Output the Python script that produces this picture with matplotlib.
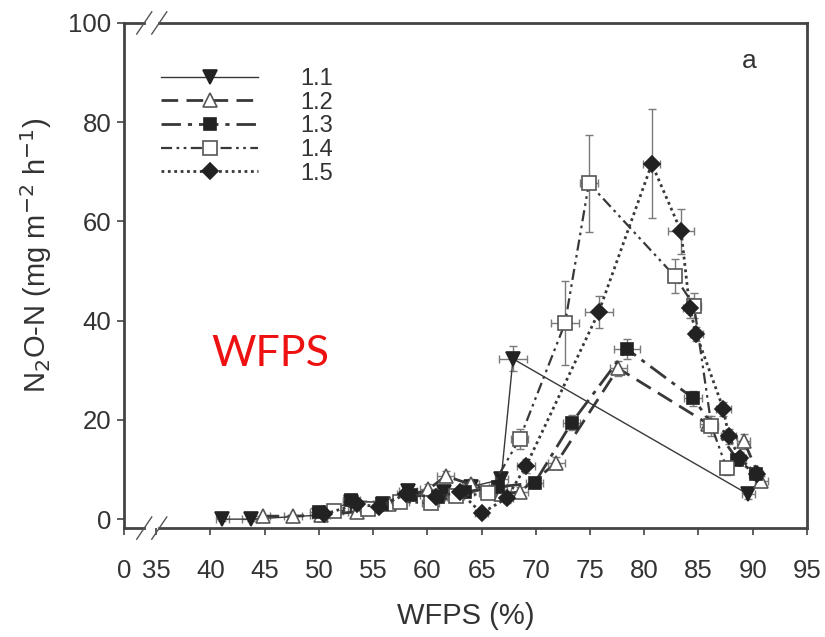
import numpy as np
import matplotlib
matplotlib.use('Agg')
import matplotlib.pyplot as plt
from matplotlib.lines import Line2D

plt.rcParams['font.family'] = ['Liberation Sans', 'DejaVu Sans']

# N2O-N flux vs WFPS for five treatments (x, y, x-error, y-error)
x11 = [41.1, 43.7, 50.0, 53.0, 55.9, 58.2, 61.5, 64.0, 66.8, 67.9, 89.6]
y11 = [0.0, 0.0, 0.8, 3.5, 3.0, 5.6, 5.5, 6.5, 8.0, 32.3, 5.0]
xe11 = [0.6, 0.8, 0.8, 0.8, 0.8, 0.8, 0.8, 0.8, 0.6, 1.3, 0.6]
ye11 = [0.3, 0.3, 0.5, 0.8, 0.8, 1.0, 1.0, 1.0, 1.5, 2.5, 1.0]

x12 = [44.8, 47.6, 50.2, 53.5, 56.5, 60.1, 61.7, 64.0, 66.8, 68.5, 71.9, 77.6, 85.9, 89.2, 90.8]
y12 = [0.6, 0.6, 0.8, 1.5, 3.0, 6.0, 8.7, 7.0, 5.0, 5.5, 11.3, 30.4, 19.2, 15.7, 7.7]
xe12 = [0.7, 0.8, 0.8, 0.8, 0.8, 0.8, 0.8, 0.8, 0.8, 0.8, 0.8, 0.8, 0.8, 0.6, 0.6]
ye12 = [0.3, 0.3, 0.5, 0.8, 0.8, 1.0, 1.0, 1.0, 1.0, 1.0, 1.2, 1.5, 1.5, 1.5, 1.0]

x13 = [50.0, 53.0, 55.8, 58.5, 61.0, 63.5, 66.5, 69.9, 73.3, 78.4, 84.5, 88.6, 90.3]
y13 = [1.5, 3.8, 3.0, 4.8, 4.5, 5.5, 6.5, 7.3, 19.4, 34.3, 24.4, 12.0, 9.0]
xe13 = [0.8, 0.8, 0.8, 0.8, 0.8, 0.8, 0.8, 0.8, 0.8, 1.2, 0.8, 0.6, 0.6]
ye13 = [0.5, 0.8, 0.8, 1.0, 1.0, 1.0, 1.0, 1.0, 1.5, 2.0, 1.5, 1.0, 1.0]

x14 = [51.4, 54.5, 57.5, 60.3, 62.6, 65.6, 68.5, 72.7, 74.9, 82.8, 84.6, 86.2, 87.6]
y14 = [1.6, 2.0, 3.5, 3.2, 4.6, 5.2, 16.1, 39.5, 67.7, 49.0, 43.0, 18.8, 10.3]
xe14 = [0.8, 0.8, 0.8, 0.8, 0.8, 0.8, 0.8, 1.3, 0.8, 0.6, 0.6, 0.6, 0.6]
ye14 = [0.5, 0.8, 0.8, 0.8, 1.0, 1.0, 2.0, 8.5, 9.8, 3.5, 2.5, 2.0, 1.5]

x15 = [50.5, 53.5, 55.5, 58.0, 60.8, 63.0, 65.0, 67.3, 69.1, 75.8, 80.7, 83.4, 84.2, 84.8, 87.3, 87.8, 88.8, 90.4]
y15 = [1.0, 3.0, 2.5, 5.0, 4.5, 5.5, 1.2, 4.2, 10.7, 41.7, 71.6, 58.0, 42.5, 37.3, 22.2, 16.7, 12.3, 9.0]
xe15 = [0.8, 0.8, 0.8, 0.8, 0.8, 0.8, 0.6, 0.6, 0.8, 1.3, 0.8, 1.2, 0.6, 0.6, 0.7, 0.7, 0.6, 0.6]
ye15 = [0.5, 0.8, 0.8, 1.0, 1.0, 1.0, 0.8, 1.0, 1.5, 3.2, 11.0, 4.5, 2.0, 1.5, 1.5, 1.5, 1.2, 1.0]

labels = ['1.1', '1.2', '1.3', '1.4', '1.5']

# axis break: the "0" tick sits just left of 35
x_zero = 32.0
xticks = [x_zero] + list(range(35, 100, 5))
xticklabels = ['0'] + [str(v) for v in range(35, 100, 5)]

line_c = '#383838'
styles = [
    dict(ls='-', lw=1.0, marker='v', mfc='#222222', mec='#222222', ms=10),
    dict(ls=(0, (6, 3)), lw=2.0, marker='^', mfc='white', mec='#555555', ms=10),
    dict(ls=(0, (7, 2.5, 1.5, 2.5)), lw=2.0, marker='s', mfc='#222222', mec='#222222', ms=9),
    dict(ls=(0, (5, 2, 1.2, 2, 1.2, 2)), lw=1.6, marker='s', mfc='white', mec='#555555', ms=10),
    dict(ls=(0, (1, 1.3)), lw=2.0, marker='D', mfc='#222222', mec='#222222', ms=8),
]
series = [(x11, y11, xe11, ye11), (x12, y12, xe12, ye12), (x13, y13, xe13, ye13),
          (x14, y14, xe14, ye14), (x15, y15, xe15, ye15)]

fig = plt.figure(figsize=(8.25, 6.37), dpi=100)
ax = fig.add_axes([0.150, 0.171, 0.828, 0.793])

handles = []
for (x, y, xe, ye), st, lab in zip(series, styles, labels):
    ax.errorbar(x, y, xerr=xe, yerr=ye, fmt='none', ecolor='#7a7a7a',
                elinewidth=1.0, capsize=3, capthick=1.0, zorder=2)
    h, = ax.plot(x, y, color=line_c, linestyle=st['ls'], lw=st['lw'],
                 marker=st['marker'], mfc=st['mfc'], mec=st['mec'], mew=1.2,
                 ms=st['ms'], label=lab, zorder=3)
    handles.append(h)

ax.set_xlim(x_zero, 95)
ax.set_ylim(-1.8, 100)
ax.set_xticks(xticks)
ax.set_xticklabels(xticklabels)
ax.set_yticks(range(0, 101, 20))
ax.tick_params(axis='both', direction='out', length=5, width=1.2,
               color='#444444', labelsize=18.5, labelcolor='#333333')
ax.tick_params(axis='x', pad=17)
ax.tick_params(axis='y', pad=4)

for side in ['left', 'right']:
    ax.spines[side].set_linewidth(2.0)
    ax.spines[side].set_color('#444444')
ax.spines['top'].set_visible(False)
ax.spines['bottom'].set_visible(False)

# top and bottom spines drawn by hand with a gap and break slashes
tr = ax.transAxes
g0, g1 = 0.030, 0.052
for yy in (0.0, 1.0):
    ax.add_line(Line2D([0, g0], [yy, yy], transform=tr, color='#444444',
                       lw=2.0, clip_on=False))
    ax.add_line(Line2D([g1, 1.0], [yy, yy], transform=tr, color='#444444',
                       lw=2.0, clip_on=False))
    for gx in (g0, g1):
        ax.add_line(Line2D([gx - 0.011, gx + 0.011], [yy - 0.022, yy + 0.022],
                           transform=tr, color='#555555', lw=1.0, clip_on=False))

ax.set_xlabel('WFPS (%)', fontsize=21, color='#333333', labelpad=14)
ax.set_ylabel('N$_2$O-N (mg m$^{-2}$ h$^{-1}$)', fontsize=21, color='#333333')
ax.yaxis.set_label_coords(-0.102, 0.54)

ax.text(0.915, 0.925, 'a', transform=tr, fontsize=19, color='#333333',
        ha='center', va='center')
ax.text(0.215, 0.345, 'WFPS', transform=tr, fontsize=31, color='#ee1111',
        ha='center', va='center', family=['Lato', 'DejaVu Sans'])

ax.legend(handles=handles, loc='upper left', bbox_to_anchor=(0.024, 0.953),
          frameon=False, fontsize=17, handlelength=4.1, handletextpad=1.8,
          labelspacing=0.07, numpoints=1, labelcolor='#333333')

fig.savefig('out.png', dpi=100)
